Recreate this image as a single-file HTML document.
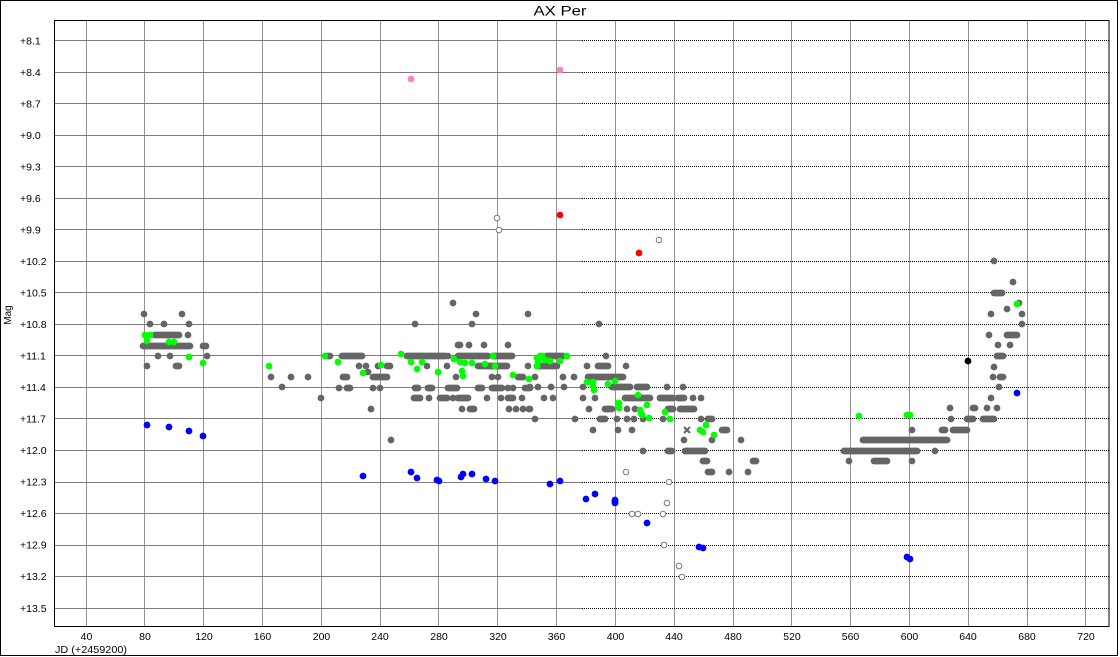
<!DOCTYPE html>
<html><head><meta charset="utf-8"><style>
html,body{margin:0;padding:0;background:#fff;}
svg{display:block;}
text{font-family:"Liberation Sans",Arial,sans-serif;fill:#000;}
</style></head><body>
<svg width="1120" height="657" viewBox="0 0 1120 657" xmlns="http://www.w3.org/2000/svg">
<rect x="0" y="0" width="1120" height="657" fill="#fff"/>
<rect x="0.5" y="0.5" width="1117" height="655" fill="none" stroke="#000" stroke-width="1"/>
<text x="560" y="15.5" font-size="14" text-anchor="middle" textLength="53" lengthAdjust="spacingAndGlyphs">AX Per</text>
<!-- vertical grid -->
<g stroke="#929292" stroke-width="1" shape-rendering="crispEdges">
<line x1="86.5" y1="20" x2="86.5" y2="627"/><line x1="144.5" y1="20" x2="144.5" y2="627"/>
<line x1="203.5" y1="20" x2="203.5" y2="627"/><line x1="262.5" y1="20" x2="262.5" y2="627"/>
<line x1="321.5" y1="20" x2="321.5" y2="627"/><line x1="380.5" y1="20" x2="380.5" y2="627"/>
<line x1="438.5" y1="20" x2="438.5" y2="627"/><line x1="497.5" y1="20" x2="497.5" y2="627"/>
<line x1="556.5" y1="20" x2="556.5" y2="627"/><line x1="615.5" y1="20" x2="615.5" y2="627"/>
<line x1="674.5" y1="20" x2="674.5" y2="627"/><line x1="733.5" y1="20" x2="733.5" y2="627"/>
<line x1="791.5" y1="20" x2="791.5" y2="627"/><line x1="850.5" y1="20" x2="850.5" y2="627"/>
<line x1="909.5" y1="20" x2="909.5" y2="627"/><line x1="968.5" y1="20" x2="968.5" y2="627"/>
<line x1="1027.5" y1="20" x2="1027.5" y2="627"/><line x1="1085.5" y1="20" x2="1085.5" y2="627"/>
</g>
<!-- horizontal grid: solid left part -->
<g stroke="#7c7c7c" stroke-width="1" shape-rendering="crispEdges">
<path d="M54 40.5H582M54 72.5H582M54 103.5H582M54 135.5H582M54 166.5H582M54 198.5H582M54 229.5H582M54 261.5H582M54 292.5H582M54 324.5H582M54 355.5H582M54 387.5H582M54 418.5H582M54 450.5H582M54 482.5H582M54 513.5H582M54 545.5H582M54 576.5H582M54 608.5H582"/>
</g>
<g stroke="#000" stroke-width="1" stroke-dasharray="1,1" shape-rendering="crispEdges">
<path d="M582 40.5H1109M582 72.5H1109M582 103.5H1109M582 135.5H1109M582 166.5H1109M582 198.5H1109M582 229.5H1109M582 261.5H1109M582 292.5H1109M582 324.5H1109M582 355.5H1109M582 387.5H1109M582 418.5H1109M582 450.5H1109M582 482.5H1109M582 513.5H1109M582 545.5H1109M582 576.5H1109M582 608.5H1109"/>
</g>
<rect x="54.5" y="20.5" width="1054.5" height="606" fill="none" stroke="#000" stroke-width="1" shape-rendering="crispEdges"/>
<!-- y labels -->
<g font-size="10.5">
<text x="20" y="44.5">+8.1</text><text x="20" y="76">+8.4</text><text x="20" y="107.5">+8.7</text>
<text x="20" y="139">+9.0</text><text x="20" y="170.5">+9.3</text><text x="20" y="202">+9.6</text>
<text x="20" y="233.5">+9.9</text><text x="20" y="265">+10.2</text><text x="20" y="296.5">+10.5</text>
<text x="20" y="328">+10.8</text><text x="20" y="359.5">+11.1</text><text x="20" y="391">+11.4</text>
<text x="20" y="422.5">+11.7</text><text x="20" y="454">+12.0</text><text x="20" y="485.5">+12.3</text>
<text x="20" y="517">+12.6</text><text x="20" y="548.5">+12.9</text><text x="20" y="580">+13.2</text>
<text x="20" y="612">+13.5</text>
</g>
<text transform="translate(11,315) rotate(-90)" font-size="10" text-anchor="middle">Mag</text>
<!-- x labels -->
<g font-size="10.5" text-anchor="middle">
<text x="86.5" y="640">40</text><text x="145" y="640">80</text><text x="204" y="640">120</text>
<text x="262.5" y="640">160</text><text x="321.5" y="640">200</text><text x="380" y="640">240</text>
<text x="439" y="640">280</text><text x="498" y="640">320</text><text x="556.5" y="640">360</text>
<text x="615.5" y="640">400</text><text x="674" y="640">440</text><text x="733" y="640">480</text>
<text x="792" y="640">520</text><text x="850.5" y="640">560</text><text x="909.5" y="640">600</text>
<text x="968" y="640">640</text><text x="1027" y="640">680</text><text x="1086" y="640">720</text>
</g>
<text x="55" y="653" font-size="10.5" textLength="72" lengthAdjust="spacingAndGlyphs">JD (+2459200)</text>
<!-- gray points -->
<path fill="none" stroke="#656565" stroke-width="6.8" stroke-linecap="round" d="
M144 314h0M182 314h0M150 324h0M164 324h0M189 324h0M155 335H179M188 335h0M143 346H190M203 346H206
M158 356h0M170 356h0M207 356h0M328 356h0M147 366h0M176 366H179M271 377h0M291 377h0M308 377h0M282 387h0M321 398h0
M453 303h0M476 314h0M528 314h0M415 324h0M472 324h0M599 324h0
M458 345H460M469 345h0M484 345h0M508 345h0
M330 356h0M342 356H362M407 356H445M448 356h0M458 356H488M493 356H512
M359 366h0M366 366h0M378 366h0M387 366H390M427 366h0M447 366h0M478 366H507M528 366h0M368 372h0
M343 377H347M373 377H387M456 377h0M492 377h0M498 377h0M518 377H523
M339 388h0M347 388H350M373 388h0M380 388h0M415 388H418M428 388H432M448 388H457M478 388H482M492 388H502M508 388h0M513 388h0M525 388H530
M414 398H420M429 398h0M440 398H447M453 398h0M458 398H468M487 398h0M501 398h0M508 398H513M522 398h0
M371 409h0M462 409h0M470 409H474M509 409h0M516 409h0M523 409h0M529 409h0M391 440h0
M547 356H563M606 356h0M537 366H557M587 366h0M598 366H608M626 366h0
M535 377h0M563 377h0M574 377h0M588 377H623
M530 387h0M538 387h0M551 387h0M564 387h0M583 387h0M612 387H630M637 387H647M667 387h0M683 387h0
M544 398h0M553 398h0M583 398h0M595 398h0M625 398H650M660 398H673M678 398H684M693 398h0M701 398h0
M530 409h0M589 409h0M605 409H612M627 409h0M635 409h0M668 409H673M680 409H694
M535 419h0M575 419h0M600 419H605M617 419h0M627 419h0M634 419h0M643 419h0M663 419h0M701 419h0M708 419H712
M593 430h0M618 430h0M632 430h0M722 430H727M684 440h0M712 440h0M741 440h0
M643 451h0M668 451H672M685 451H705M703 461H707M753 461H756M708 472H712M729 472h0M748 472h0
M994 261h0M1013 282h0M994 293H1002M1019 303h0M1007 309h0M991 314h0M1022 314h0M1022 324h0
M989 335h0M1007 335H1017M998 345h0M1010 345h0M997 356H1003M994 367h0M993 377h0M1000 377H1003M999 387h0M991 398h0
M950 408h0M973 408H975M987 408h0M997 408h0M951 419h0M967 419H973M983 419H994
M912 430h0M942 430H945M953 430H967M863 440H947M844 451H917M935 451h0M849 461h0M874 461H887M912 461h0"/>
<!-- X marker -->
<path d="M684 427L690 433M690 427L684 433" stroke="#656565" stroke-width="2"/>
<!-- green points -->
<path fill="none" stroke="#00ff00" stroke-width="6.8" stroke-linecap="round" d="
M145 335h0M150 335h0M147 341h0M169 342h0M174 342h0M189 357h0M203 363h0M269 366h0M325 356h0
M338 362h0M363 373h0M381 365h0M401 354h0M411 362h0M417 369h0M422 362h0M438 372h0M454 359h0M460 362h0M462 371h0M463 376h0M465 363h0M472 363h0M485 364h0M493 356h0M495 366h0M513 375h0M529 379h0
M537 358h0M540 356h0M538 362h0M542 356h0M545 360h0M537 366h0M567 356h0M550 361h0M560 361h0
M587 382h0M593 382h0M593 386h0M594 390h0M608 384h0M615 381h0M638 395h0M618 403H619M619 408h0M647 405h0M640 410h0M641 413h0M642 415h0M665 412h0M649 418h0M670 419h0
M700 430h0M703 432h0M706 425h0M714 435h0M859 416h0M907 415H910M1017 304h0"/>
<!-- blue points -->
<path fill="none" stroke="#0000ff" stroke-width="6.8" stroke-linecap="round" d="
M147 425h0M169 427h0M189 431h0M203 436h0M363 476h0M411 472h0M417 478h0M437 480h0M439 481h0M461 477h0M463 474h0M472 474h0M486 479h0M495 481h0M550 484h0M560 481h0M586 499h0M595 494h0M615 500V503M647 523h0M699 547h0M703 548h0M907 557h0M910 559h0M1017 393h0"/>
<!-- pink, red, black -->
<path fill="none" stroke="#ff80c0" stroke-width="6.8" stroke-linecap="round" d="M411 79h0M560 70h0"/>
<path fill="none" stroke="#ff0000" stroke-width="6.8" stroke-linecap="round" d="M560 215h0M639 253h0"/>
<path fill="none" stroke="#000000" stroke-width="6.8" stroke-linecap="round" d="M968 361h0"/>
<!-- open circles -->
<g fill="#fff" stroke="#7a7a7a" stroke-width="1">
<circle cx="497" cy="218" r="2.8"/><circle cx="499" cy="230" r="2.8"/><circle cx="659" cy="240" r="2.8"/>
<circle cx="626" cy="472" r="2.8"/><circle cx="669" cy="482" r="2.8"/><circle cx="667" cy="503" r="2.8"/>
<circle cx="632" cy="514" r="2.8"/><circle cx="638" cy="514" r="2.8"/><circle cx="663" cy="514" r="2.8"/>
<circle cx="664" cy="545" r="2.8"/><circle cx="679" cy="566" r="2.8"/><circle cx="682" cy="577" r="2.8"/>
</g>
</svg>
</body></html>
